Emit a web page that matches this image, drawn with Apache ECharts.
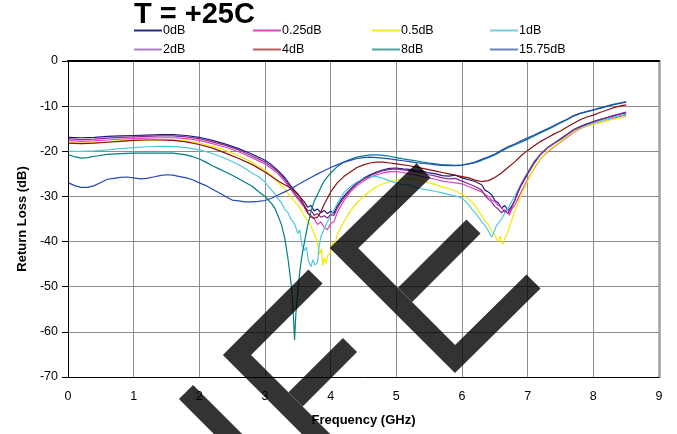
<!DOCTYPE html>
<html><head><meta charset="utf-8">
<script src="https://cdn.jsdelivr.net/npm/echarts@6/dist/echarts.min.js"></script>
<style>html,body{margin:0;padding:0;background:#fff}#c{width:677px;height:434px}</style>
</head><body><div id="c"></div>
<script>
const chartTitle = 'T = +25C';
const xName = 'Frequency (GHz)';
const yName = 'Return Loss (dB)';
const seriesNames = ['0dB','0.25dB','0.5dB','1dB','2dB','4dB','8dB','15.75dB'];
const seriesColors = ['#1c1c80','#e040c8','#f2ea00','#50c8e0','#8a2a8a','#8b1010','#008080','#2848b8'];
const legendColors = ['#2a2a8a','#d848c0','#f0e830','#70d0e0','#b080c0','#b06060','#50a0a0','#7080c0'];
const xTicks = [0,1,2,3,4,5,6,7,8,9];
const yTicks = [0,-10,-20,-30,-40,-50,-60,-70];

const s0dB = [[0.01,-16.9],[0.2,-17.0],[0.4,-16.9],[0.6,-16.7],[0.8,-16.6],[1.0,-16.5],[1.2,-16.4],[1.4,-16.3],[1.6,-16.3],[1.8,-16.5],[2.0,-16.9],[2.2,-17.6],[2.4,-18.4],[2.6,-19.4],[2.8,-20.6],[3.0,-22.0],[3.1,-23.0],[3.2,-24.3],[3.3,-25.8],[3.4,-27.8],[3.5,-29.6],[3.6,-31.2],[3.65,-32.4],[3.7,-32.0],[3.75,-33.2],[3.8,-32.8],[3.85,-33.6],[3.9,-33.1],[3.95,-33.8],[4.0,-33.3],[4.05,-33.7],[4.1,-32.2],[4.15,-31.0],[4.2,-30.0],[4.3,-28.4],[4.4,-27.0],[4.5,-26.0],[4.6,-25.2],[4.7,-24.6],[4.8,-24.1],[4.9,-23.8],[5.0,-23.7],[5.1,-23.9],[5.2,-24.0],[5.3,-24.3],[5.4,-24.4],[5.5,-24.8],[5.6,-25.0],[5.7,-25.4],[5.8,-25.5],[5.9,-25.3],[6.0,-25.9],[6.1,-26.3],[6.2,-26.7],[6.3,-27.4],[6.35,-28.6],[6.4,-29.0],[6.45,-29.6],[6.5,-30.9],[6.55,-31.4],[6.6,-32.6],[6.65,-32.0],[6.7,-33.1],[6.75,-32.3],[6.8,-31.0],[6.85,-29.2],[6.9,-27.6],[7.0,-25.0],[7.1,-22.6],[7.2,-20.6],[7.3,-19.2],[7.4,-18.2],[7.5,-17.2],[7.6,-16.2],[7.7,-15.2],[7.8,-14.5],[7.9,-13.9],[8.0,-13.4],[8.1,-13.0],[8.2,-12.6],[8.3,-12.2],[8.4,-11.8],[8.5,-11.5]];
const s025dB = [[0.01,-17.6],[0.2,-17.8],[0.4,-17.7],[0.6,-17.5],[0.8,-17.3],[1.0,-17.2],[1.2,-17.1],[1.4,-17.0],[1.6,-17.0],[1.8,-17.2],[2.0,-17.6],[2.2,-18.3],[2.4,-19.1],[2.6,-20.1],[2.8,-21.4],[3.0,-22.8],[3.1,-23.8],[3.2,-25.0],[3.3,-26.6],[3.4,-28.6],[3.5,-30.6],[3.6,-32.4],[3.65,-33.6],[3.7,-34.2],[3.75,-35.0],[3.8,-36.2],[3.85,-35.6],[3.9,-36.8],[3.95,-37.4],[4.0,-36.0],[4.05,-35.6],[4.1,-33.6],[4.15,-32.2],[4.2,-31.0],[4.3,-29.0],[4.4,-27.6],[4.5,-26.6],[4.6,-25.8],[4.7,-25.2],[4.8,-24.8],[4.9,-24.5],[5.0,-24.5],[5.1,-24.7],[5.2,-25.0],[5.3,-25.3],[5.4,-25.6],[5.5,-25.9],[5.6,-26.2],[5.7,-26.6],[5.8,-26.8],[5.9,-27.0],[6.0,-27.2],[6.1,-27.8],[6.2,-28.4],[6.3,-29.0],[6.4,-30.0],[6.45,-30.8],[6.5,-31.2],[6.55,-32.0],[6.6,-32.4],[6.65,-33.6],[6.7,-32.8],[6.72,-34.2],[6.75,-33.0],[6.8,-32.0],[6.85,-30.6],[6.9,-29.0],[7.0,-26.2],[7.1,-23.8],[7.2,-21.6],[7.3,-20.2],[7.4,-19.0],[7.5,-18.0],[7.6,-16.9],[7.7,-15.8],[7.8,-15.0],[7.9,-14.4],[8.0,-14.0],[8.1,-13.6],[8.2,-13.2],[8.3,-12.7],[8.4,-12.3],[8.5,-12.0]];
const s05dB = [[0.01,-18.0],[0.2,-18.2],[0.4,-18.1],[0.6,-17.9],[0.8,-17.7],[1.0,-17.6],[1.2,-17.5],[1.4,-17.4],[1.6,-17.4],[1.8,-17.7],[2.0,-18.2],[2.2,-18.9],[2.4,-19.8],[2.6,-21.0],[2.8,-22.4],[3.0,-24.2],[3.1,-25.4],[3.2,-26.8],[3.3,-28.4],[3.4,-30.2],[3.5,-32.0],[3.55,-33.0],[3.6,-34.4],[3.65,-35.4],[3.7,-36.6],[3.75,-38.4],[3.8,-40.2],[3.83,-42.8],[3.86,-41.6],[3.88,-45.4],[3.9,-43.6],[3.93,-44.8],[3.96,-43.0],[4.0,-42.4],[4.03,-40.2],[4.06,-40.8],[4.1,-38.6],[4.15,-37.0],[4.2,-35.6],[4.3,-33.2],[4.4,-31.4],[4.5,-30.0],[4.6,-28.8],[4.7,-27.8],[4.8,-27.2],[4.9,-26.7],[5.0,-26.4],[5.1,-26.1],[5.2,-26.0],[5.3,-26.2],[5.4,-26.6],[5.5,-27.0],[5.6,-27.4],[5.7,-27.9],[5.8,-28.3],[5.9,-28.8],[6.0,-29.5],[6.1,-30.6],[6.2,-32.0],[6.25,-33.2],[6.3,-34.2],[6.35,-35.4],[6.4,-36.2],[6.45,-37.6],[6.5,-38.6],[6.55,-40.0],[6.58,-38.8],[6.62,-40.6],[6.65,-39.4],[6.7,-37.8],[6.75,-35.6],[6.8,-33.2],[6.85,-31.6],[6.9,-29.8],[7.0,-26.6],[7.1,-23.6],[7.2,-21.6],[7.3,-20.0],[7.4,-18.9],[7.5,-17.9],[7.6,-16.7],[7.7,-15.6],[7.8,-14.9],[7.9,-14.4],[8.0,-14.0],[8.1,-13.6],[8.2,-13.2],[8.3,-12.9],[8.4,-12.6],[8.5,-12.3]];
const s1dB = [[0.01,-20.0],[0.2,-20.0],[0.4,-19.9],[0.6,-19.7],[0.8,-19.4],[1.0,-19.2],[1.2,-19.0],[1.4,-18.9],[1.6,-18.9],[1.8,-19.2],[2.0,-19.7],[2.2,-20.5],[2.4,-21.6],[2.6,-23.0],[2.7,-23.8],[2.8,-24.8],[2.9,-25.6],[3.0,-26.8],[3.05,-27.8],[3.1,-28.6],[3.15,-29.4],[3.2,-30.6],[3.25,-31.4],[3.3,-32.8],[3.35,-33.6],[3.4,-35.2],[3.45,-36.0],[3.5,-38.2],[3.53,-37.4],[3.56,-40.6],[3.6,-42.0],[3.63,-41.2],[3.66,-44.2],[3.7,-45.6],[3.73,-44.0],[3.76,-45.2],[3.8,-44.6],[3.82,-41.4],[3.85,-39.0],[3.9,-37.2],[3.95,-35.6],[4.0,-34.4],[4.1,-31.6],[4.2,-29.2],[4.3,-27.8],[4.4,-26.8],[4.5,-26.1],[4.6,-25.6],[4.7,-25.6],[4.8,-26.0],[4.9,-26.6],[5.0,-27.0],[5.1,-27.4],[5.2,-27.4],[5.3,-28.0],[5.4,-28.4],[5.5,-28.6],[5.6,-28.9],[5.7,-29.2],[5.8,-29.6],[5.9,-29.9],[6.0,-30.4],[6.05,-31.0],[6.1,-31.8],[6.15,-32.8],[6.2,-33.6],[6.25,-34.6],[6.3,-35.6],[6.35,-36.4],[6.4,-37.6],[6.45,-39.0],[6.48,-38.2],[6.52,-36.6],[6.55,-37.0],[6.6,-35.0],[6.65,-33.8],[6.7,-32.6],[6.8,-30.0],[6.9,-27.2],[7.0,-24.6],[7.1,-22.2],[7.2,-20.6],[7.3,-19.3],[7.4,-18.3],[7.5,-17.4],[7.6,-16.4],[7.7,-15.3],[7.8,-14.7],[7.9,-14.2],[8.0,-13.7],[8.1,-13.3],[8.2,-12.9],[8.3,-12.5],[8.4,-12.1],[8.5,-11.8]];
const s2dB = [[0.01,-17.2],[0.2,-17.4],[0.4,-17.3],[0.6,-17.1],[0.8,-16.9],[1.0,-16.8],[1.2,-16.7],[1.4,-16.6],[1.6,-16.6],[1.8,-16.8],[2.0,-17.2],[2.2,-17.9],[2.4,-18.7],[2.6,-19.7],[2.8,-21.0],[3.0,-22.4],[3.1,-23.4],[3.2,-24.6],[3.3,-26.2],[3.4,-28.2],[3.5,-30.2],[3.6,-32.0],[3.65,-33.2],[3.7,-33.0],[3.75,-34.2],[3.8,-33.8],[3.85,-34.6],[3.9,-34.3],[3.95,-34.8],[4.0,-34.0],[4.05,-34.2],[4.1,-32.6],[4.15,-31.4],[4.2,-30.4],[4.3,-28.6],[4.4,-27.2],[4.5,-26.2],[4.6,-25.4],[4.7,-24.8],[4.8,-24.3],[4.9,-24.0],[5.0,-23.9],[5.1,-24.1],[5.2,-24.3],[5.3,-24.6],[5.4,-24.8],[5.5,-25.2],[5.6,-25.5],[5.7,-25.9],[5.8,-26.1],[5.9,-26.0],[6.0,-26.6],[6.1,-27.2],[6.2,-27.8],[6.3,-28.6],[6.35,-29.8],[6.4,-30.6],[6.45,-31.2],[6.5,-32.2],[6.55,-32.8],[6.6,-33.6],[6.65,-33.0],[6.7,-33.8],[6.75,-32.6],[6.8,-31.0],[6.85,-29.0],[6.9,-27.4],[7.0,-24.8],[7.1,-22.4],[7.2,-20.6],[7.3,-19.3],[7.4,-18.3],[7.5,-17.4],[7.6,-16.3],[7.7,-15.3],[7.8,-14.6],[7.9,-14.0],[8.0,-13.5],[8.1,-13.0],[8.2,-12.6],[8.3,-12.1],[8.4,-11.7],[8.5,-11.3]];
const s4dB = [[0.01,-18.2],[0.2,-18.3],[0.4,-18.2],[0.6,-18.0],[0.8,-17.8],[1.0,-17.6],[1.2,-17.5],[1.4,-17.5],[1.6,-17.6],[1.8,-17.9],[2.0,-18.5],[2.2,-19.3],[2.4,-20.4],[2.6,-21.6],[2.8,-22.9],[3.0,-24.6],[3.1,-25.6],[3.2,-26.6],[3.3,-27.4],[3.4,-28.2],[3.5,-29.4],[3.55,-30.6],[3.6,-32.2],[3.65,-33.6],[3.7,-34.6],[3.75,-34.8],[3.8,-34.6],[3.85,-33.4],[3.9,-31.8],[4.0,-29.0],[4.1,-27.0],[4.2,-25.6],[4.3,-24.6],[4.4,-23.6],[4.5,-23.0],[4.6,-22.6],[4.7,-22.4],[4.8,-22.4],[4.9,-22.6],[5.0,-22.8],[5.2,-23.2],[5.4,-23.8],[5.6,-24.4],[5.7,-24.7],[5.8,-25.0],[6.0,-25.6],[6.1,-25.9],[6.2,-26.4],[6.3,-26.7],[6.4,-26.5],[6.5,-25.8],[6.6,-24.8],[6.7,-23.6],[6.8,-22.4],[6.9,-21.0],[7.0,-19.8],[7.1,-18.8],[7.2,-17.8],[7.3,-17.0],[7.4,-16.2],[7.5,-15.5],[7.6,-14.6],[7.7,-13.8],[7.8,-13.0],[7.9,-12.4],[8.0,-12.0],[8.1,-11.4],[8.2,-10.9],[8.3,-10.4],[8.4,-10.0],[8.5,-9.7]];
const s8dB = [[0.01,-20.8],[0.1,-21.2],[0.2,-21.5],[0.3,-21.4],[0.4,-21.1],[0.6,-20.7],[0.8,-20.5],[1.0,-20.4],[1.2,-20.4],[1.4,-20.4],[1.6,-20.4],[1.8,-20.8],[1.9,-21.2],[2.0,-21.7],[2.1,-22.4],[2.2,-23.2],[2.3,-23.9],[2.4,-24.6],[2.5,-25.3],[2.6,-26.1],[2.7,-26.9],[2.8,-27.7],[2.9,-28.9],[3.0,-30.0],[3.1,-31.6],[3.15,-32.6],[3.2,-34.4],[3.25,-36.2],[3.3,-39.2],[3.35,-43.8],[3.38,-47.2],[3.41,-51.0],[3.43,-55.8],[3.45,-61.8],[3.47,-56.0],[3.5,-51.2],[3.53,-46.6],[3.56,-43.4],[3.6,-40.2],[3.65,-36.4],[3.7,-33.4],[3.75,-31.0],[3.8,-29.6],[3.85,-28.0],[3.9,-26.6],[4.0,-24.8],[4.1,-23.4],[4.2,-22.4],[4.3,-21.8],[4.4,-21.3],[4.5,-21.0],[4.6,-20.8],[4.7,-20.8],[4.8,-20.9],[4.9,-21.1],[5.0,-21.4],[5.1,-21.7],[5.2,-21.9],[5.3,-22.1],[5.4,-22.4],[5.5,-22.6],[5.6,-22.8],[5.7,-23.0],[5.8,-23.0],[5.9,-23.1],[6.0,-23.0],[6.1,-22.8],[6.2,-22.5],[6.3,-22.0],[6.4,-21.4],[6.5,-20.8],[6.6,-20.0],[6.7,-19.2],[6.8,-18.6],[6.9,-18.0],[7.0,-17.3],[7.1,-16.6],[7.2,-15.9],[7.3,-15.2],[7.4,-14.5],[7.5,-13.7],[7.6,-13.0],[7.7,-12.2],[7.8,-11.6],[7.9,-11.2],[8.0,-10.8],[8.1,-10.4],[8.2,-10.0],[8.3,-9.6],[8.4,-9.3],[8.5,-9.0]];
const s1575dB = [[0.01,-27.0],[0.1,-27.6],[0.2,-28.0],[0.3,-28.0],[0.4,-27.6],[0.5,-26.9],[0.6,-26.2],[0.7,-26.0],[0.8,-25.8],[0.9,-25.7],[1.0,-25.9],[1.1,-26.1],[1.2,-26.0],[1.3,-25.7],[1.4,-25.4],[1.5,-25.2],[1.6,-25.3],[1.7,-25.6],[1.8,-25.9],[1.9,-26.3],[2.0,-27.0],[2.1,-27.6],[2.2,-28.4],[2.3,-29.2],[2.4,-30.0],[2.5,-30.8],[2.6,-31.0],[2.7,-31.2],[2.8,-31.2],[2.9,-31.1],[3.0,-30.9],[3.1,-30.4],[3.2,-29.7],[3.3,-29.0],[3.4,-28.3],[3.5,-27.4],[3.6,-26.6],[3.7,-25.8],[3.8,-25.0],[3.9,-24.3],[4.0,-23.6],[4.1,-23.0],[4.2,-22.4],[4.3,-22.0],[4.4,-21.6],[4.5,-21.4],[4.6,-21.3],[4.7,-21.4],[4.8,-21.5],[4.9,-21.7],[5.0,-21.9],[5.1,-22.1],[5.2,-22.3],[5.3,-22.5],[5.4,-22.7],[5.5,-22.8],[5.6,-23.0],[5.7,-23.1],[5.8,-23.2],[5.9,-23.2],[6.0,-23.1],[6.1,-22.8],[6.2,-22.4],[6.3,-21.8],[6.4,-21.2],[6.5,-20.6],[6.6,-19.8],[6.7,-19.0],[6.8,-18.4],[6.9,-17.7],[7.0,-17.0],[7.1,-16.4],[7.2,-15.7],[7.3,-15.0],[7.4,-14.3],[7.5,-13.6],[7.6,-12.9],[7.7,-12.1],[7.8,-11.6],[7.9,-11.2],[8.0,-10.9],[8.1,-10.5],[8.2,-10.1],[8.3,-9.7],[8.4,-9.4],[8.5,-9.1]];
const seriesData = [s0dB, s025dB, s05dB, s1dB, s2dB, s4dB, s8dB, s1575dB];

const FONT = '"Liberation Sans", Arial, sans-serif';
const legendCols = [134, 253, 372, 490];
const legendRows = [24, 43];

const chart = echarts.init(document.getElementById('c'), null, {renderer: 'canvas'});

const legends = seriesNames.map((n, i) => ({
  data: [n], selectedMode: false, orient: 'horizontal',
  left: legendCols[i % 4], top: legendRows[Math.floor(i / 4)], padding: 0,
  itemWidth: 28, itemHeight: 2, icon: 'rect', itemGap: 0,
  itemStyle: {color: legendColors[i]},
  textStyle: {fontFamily: FONT, fontSize: 12.5, color: '#000', padding: [0, 0, 0, -4]}
}));

const band = (pts) => ({
  type: 'polyline', z: 100, silent: true,
  shape: {points: pts},
  style: {stroke: 'rgba(0,0,0,0.8)', lineWidth: 20, fill: null, lineJoin: 'miter', lineCap: 'butt', miterLimit: 10}
});

const option = {
  animation: false,
  backgroundColor: '#fff',
  title: {text: chartTitle, left: 134, top: 0, padding: 0,
    textStyle: {fontFamily: FONT, fontSize: 29, fontWeight: 'bold', color: '#000'}},
  legend: legends,
  grid: {left: 68, top: 61, width: 591, height: 316, containLabel: false},
  xAxis: [{
    type: 'value', min: 0, max: 9, interval: 1,
    name: xName, nameLocation: 'middle', nameGap: 37,
    nameTextStyle: {fontFamily: FONT, fontSize: 13, fontWeight: 'bold', color: '#000'},
    axisLine: {show: true, onZero: false, lineStyle: {color: '#000', width: 1}},
    axisTick: {show: false},
    axisLabel: {margin: 13, fontFamily: FONT, fontSize: 12.5, color: '#000',
      formatter: v => xTicks.includes(v) ? String(v) : ''},
    splitLine: {show: true, lineStyle: {color: '#8c8c8c', width: 1}}
  }, {
    type: 'value', min: 0, max: 9, position: 'top',
    axisLine: {show: true, onZero: false, lineStyle: {color: '#000', width: 2}},
    axisTick: {show: false}, axisLabel: {show: false}, splitLine: {show: false}
  }],
  yAxis: [{
    type: 'value', min: -70, max: 0, interval: 10,
    name: yName, nameLocation: 'middle', nameGap: 33, nameRotate: 90,
    nameTextStyle: {fontFamily: FONT, fontSize: 13, fontWeight: 'bold', color: '#000'},
    axisLine: {show: true, onZero: false, lineStyle: {color: '#000', width: 1}},
    axisTick: {show: true, inside: false, length: 6, lineStyle: {color: '#000'}},
    axisLabel: {margin: 10, fontFamily: FONT, fontSize: 12.5, color: '#000',
      formatter: v => yTicks.includes(v) ? String(v) : ''},
    splitLine: {show: true, lineStyle: {color: '#8c8c8c', width: 1}}
  }, {
    type: 'value', min: -70, max: 0, position: 'right',
    axisLine: {show: true, onZero: false, lineStyle: {color: '#a0a0a0', width: 2.5}},
    axisTick: {show: false}, axisLabel: {show: false}, splitLine: {show: false}
  }],
  series: seriesNames.map((n, i) => ({
    name: n, type: 'line', data: seriesData[i], xAxisIndex: 0, yAxisIndex: 0,
    showSymbol: false, symbol: 'none', color: seriesColors[i],
    lineStyle: {color: seriesColors[i], width: 1.2}, z: 2 + i
  })),
  graphic: [
    band([[315.5, 276.5], [237, 355], [340, 458]]),
    band([[295.6, 399.4], [350, 345]]),
    band([[186, 392], [250, 456]]),
    band([[423.5, 170.5], [344, 248], [455, 359], [533.5, 281.5]]),
    band([[405.1, 294.9], [473.5, 226.5]])
  ]
};
chart.setOption(option);
</script>
</body></html>
